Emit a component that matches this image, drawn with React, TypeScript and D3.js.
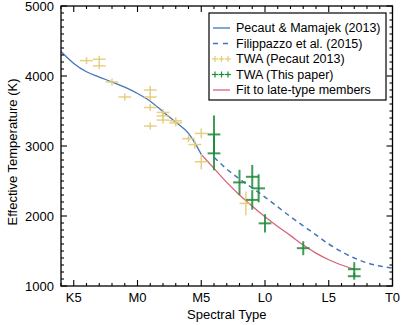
import React from "react";
import * as d3 from "d3";

// Spectral type code: M0 = 0, K5 = -5, M5 = 5, L0 = 10, L5 = 15, T0 = 20
const tickCodes = [-5, 0, 5, 10, 15, 20];
const tickLabels = ["K5", "M0", "M5", "L0", "L5", "T0"];
const yTicks = [1000, 2000, 3000, 4000, 5000];

const pmTypes = [-6, -5, -4, -3, -2, -1, 0, 1, 2, 3, 4, 4.5, 5];
const pmTeff = [4350, 4180, 4060, 3985, 3915, 3840, 3750, 3640, 3490, 3340, 3180, 3045, 2880];

const filTypes = [6, 7, 8, 9, 10, 11, 12, 13, 14, 15, 16, 17, 18, 19, 20];
const filTeff = [2840, 2670, 2530, 2400, 2270, 2130, 1990, 1860, 1730, 1600, 1490, 1400, 1330, 1285, 1255];

const fitTypes = [5, 6, 7, 8, 9, 10, 11, 12, 13, 14, 15, 16, 17];
const fitTeff = [2880, 2680, 2480, 2300, 2140, 1990, 1850, 1720, 1585, 1470, 1375, 1300, 1240];

// TWA (Pecaut 2013)
const pecTypes = [-4, -3, -3, -2, -1, 1, 1, 1, 1, 2, 2, 2, 3, 3, 4, 4.5, 5, 5, 8.5];
const pecTeff = [4220, 4240, 4145, 3915, 3700, 3800, 3700, 3550, 3285, 3480, 3430, 3370, 3360, 3330, 3105, 3020, 3180, 2775, 2180];
const pecErr = [50, 50, 50, 50, 50, 60, 50, 50, 50, 50, 50, 50, 50, 50, 50, 60, 70, 110, 170];

// TWA (This paper)
const twaTypes = [6, 6, 8, 9, 9, 9.5, 10, 13, 17, 17];
const twaTeff = [3165, 2895, 2480, 2560, 2230, 2395, 1895, 1540, 1240, 1140];
const twaErr = [270, 240, 180, 170, 140, 200, 130, 100, 100, 50];

const BLUE = "#4275bd";
const YELLOW = "#e3cb75";
const GREEN = "#1e8a3a";
const RED = "#d9627a";
const FONT = "Liberation Sans, Arial, Helvetica, sans-serif";

export default function App() {
  const x = d3.scaleLinear().domain([-6, 20]).range([61, 392.5]);
  const y = d3.scaleLinear().domain([1000, 5000]).range([286, 6]);
  const [x0, x1] = x.range();
  const [y0, y1] = y.range();

  const line = d3
    .line<[number, number]>()
    .x((d) => x(d[0]))
    .y((d) => y(d[1]))
    .curve(d3.curveMonotoneX);

  const pm = line(pmTypes.map((t, i) => [t, pmTeff[i]]) as [number, number][]) || "";
  const fil = line(filTypes.map((t, i) => [t, filTeff[i]]) as [number, number][]) || "";
  const fit = line(fitTypes.map((t, i) => [t, fitTeff[i]]) as [number, number][]) || "";

  const xMinor = d3.range(-6, 21, 1);
  const yMinor = d3.range(1000, 5001, 100);

  const tickEls: React.ReactNode[] = [];
  xMinor.forEach((v, i) => {
    const major = v % 5 === 0;
    const L = major ? 6 : 3;
    const px = x(v);
    tickEls.push(<line key={"xb" + i} x1={px} x2={px} y1={y0} y2={y0 - L} />);
    tickEls.push(<line key={"xt" + i} x1={px} x2={px} y1={y1} y2={y1 + L} />);
  });
  yMinor.forEach((v, i) => {
    const major = v % 1000 === 0;
    const L = major ? 6 : 3;
    const py = y(v);
    tickEls.push(<line key={"yl" + i} x1={x0} x2={x0 + L} y1={py} y2={py} />);
    tickEls.push(<line key={"yr" + i} x1={x1} x2={x1 - L} y1={py} y2={py} />);
  });

  const cross = (
    t: number,
    T: number,
    e: number,
    color: string,
    w: number,
    key: string,
    op: number
  ) => (
    <g key={key} stroke={color} strokeWidth={w} strokeOpacity={op}>
      <line x1={x(t - 0.5)} x2={x(t + 0.5)} y1={y(T)} y2={y(T)} />
      <line x1={x(t)} x2={x(t)} y1={y(T - e)} y2={y(T + e)} />
    </g>
  );

  const legendRows = [
    { label: "Pecaut & Mamajek (2013)", kind: "solid", color: BLUE },
    { label: "Filippazzo et al. (2015)", kind: "dash", color: BLUE },
    { label: "TWA (Pecaut 2013)", kind: "cross", color: YELLOW },
    { label: "TWA (This paper)", kind: "cross", color: GREEN },
    { label: "Fit to late-type members", kind: "solid", color: RED },
  ];
  const lgX = 209;
  const lgY = 13;

  return (
    <svg
      width={406}
      height={325}
      style={{ position: "absolute", left: 0, top: 0, background: "#fff" }}
      fontFamily={FONT}
    >
      <rect x={0} y={0} width={406} height={325} fill="#fff" />
      {/* curves */}
      <path d={pm} fill="none" stroke={BLUE} strokeWidth={1.3} />
      <path d={fil} fill="none" stroke={BLUE} strokeWidth={1.5} strokeDasharray="5,4" />
      <path d={fit} fill="none" stroke={RED} strokeWidth={1.3} />
      {/* points */}
      {pecTypes.map((t, i) => cross(t, pecTeff[i], pecErr[i], YELLOW, 1.5, "p" + i, 0.9))}
      {twaTypes.map((t, i) => cross(t, twaTeff[i], twaErr[i], GREEN, 2, "g" + i, 0.85))}
      {/* frame */}
      <rect x={x0} y={y1} width={x1 - x0} height={y0 - y1} fill="none" stroke="#000" strokeWidth={1.3} />
      <g stroke="#000" strokeWidth={1.1}>{tickEls}</g>
      {/* tick labels */}
      {tickCodes.map((v, i) => (
        <text key={"xl" + i} x={x(v)} y={302} fontSize={13} textAnchor="middle" fill="#000">
          {tickLabels[i]}
        </text>
      ))}
      {yTicks.map((v) => (
        <text key={"yl" + v} x={54} y={y(v) + 4.5} fontSize={13} textAnchor="end" fill="#000">
          {v}
        </text>
      ))}
      <text x={(x0 + x1) / 2} y={319} fontSize={13} textAnchor="middle" fill="#000">
        Spectral Type
      </text>
      <text
        transform={`translate(17, ${(y0 + y1) / 2 + 6}) rotate(-90)`}
        fontSize={13}
        textAnchor="middle"
        fill="#000"
      >
        Effective Temperature (K)
      </text>
      {/* legend */}
      <rect x={lgX} y={lgY} width={177} height={87} fill="#fff" stroke="#000" strokeWidth={1.2} />
      {legendRows.map((r, i) => {
        const cy = lgY + 15 + i * 15.5;
        let sample: React.ReactNode;
        if (r.kind === "solid") {
          sample = <line x1={lgX + 4} x2={lgX + 21} y1={cy} y2={cy} stroke={r.color} strokeWidth={1.3} />;
        } else if (r.kind === "dash") {
          sample = (
            <line x1={lgX + 4} x2={lgX + 21} y1={cy} y2={cy} stroke={r.color} strokeWidth={1.5} strokeDasharray="5,5" />
          );
        } else {
          sample = (
            <g stroke={r.color} strokeWidth={1.2}>
              {[0, 1, 2].map((k) => {
                const cx = lgX + 6 + k * 6.5;
                return (
                  <g key={k}>
                    <line x1={cx - 3} x2={cx + 3} y1={cy} y2={cy} />
                    <line x1={cx} x2={cx} y1={cy - 3} y2={cy + 3} />
                  </g>
                );
              })}
            </g>
          );
        }
        return (
          <g key={"lg" + i}>
            {sample}
            <text x={lgX + 27} y={cy + 4} fontSize={12.5} fill="#000">
              {r.label}
            </text>
          </g>
        );
      })}
    </svg>
  );
}
